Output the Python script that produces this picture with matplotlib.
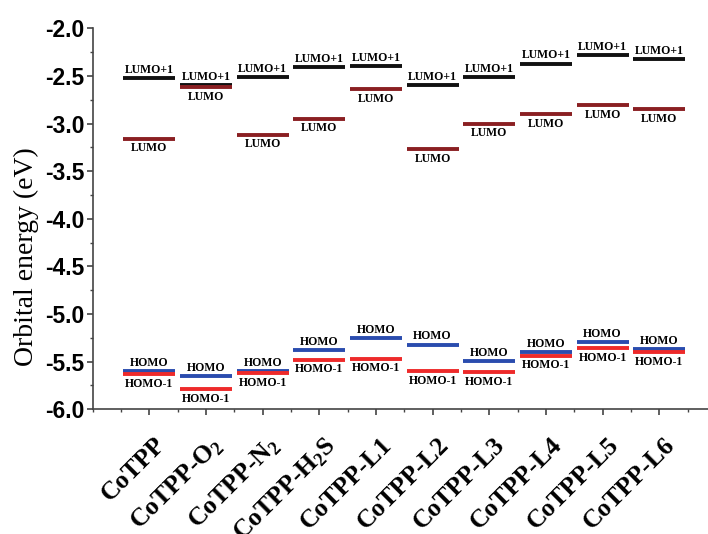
import matplotlib
matplotlib.use("Agg")
import matplotlib.pyplot as plt
import matplotlib.transforms as mtransforms
from matplotlib.ticker import MultipleLocator

plt.rcParams["mathtext.fontset"] = "custom"
plt.rcParams["mathtext.rm"] = "Liberation Serif"
plt.rcParams["mathtext.bf"] = "Liberation Serif:bold"

systems = ["CoTPP", r"CoTPP-O$_\mathbf{2}$", r"CoTPP-N$_\mathbf{2}$",
           r"CoTPP-H$_\mathbf{2}$S", "CoTPP-L1", "CoTPP-L2", "CoTPP-L3",
           "CoTPP-L4", "CoTPP-L5", "CoTPP-L6"]

# orbital energies (eV)
lumo1 = [-2.52, -2.60, -2.51, -2.41, -2.40, -2.60, -2.51, -2.37, -2.28, -2.32]
lumo = [-3.16, -2.62, -3.12, -2.95, -2.64, -3.27, -3.00, -2.90, -2.81, -2.85]
homo = [-5.60, -5.65, -5.60, -5.38, -5.25, -5.32, -5.49, -5.40, -5.29, -5.37]
homo1 = [-5.63, -5.79, -5.62, -5.48, -5.47, -5.60, -5.61, -5.44, -5.36, -5.40]

levels = [
    (lumo1, "LUMO+1", "#111111", "above"),
    (lumo, "LUMO", "#8a1f22", "below"),
    (homo, "HOMO", "#2a4cae", "above"),
    (homo1, "HOMO-1", "#ee2a2a", "below"),
]

fig = plt.figure(figsize=(7.08, 5.34), dpi=100)
ax = fig.add_axes([0.131, 0.2335, 0.869, 0.7135])

x = list(range(1, len(systems) + 1))
half = 0.46
for values, name, color, side in levels:
    ax.hlines(values, [xi - half for xi in x], [xi + half for xi in x],
              colors=color, linewidth=2.8)
    for xi, v in zip(x, values):
        if side == "above":
            ax.annotate(name, (xi, v), xytext=(0, 1.5), textcoords="offset points",
                        ha="center", va="bottom", fontsize=8.5,
                        fontfamily="Liberation Serif", fontweight="bold")
        else:
            ax.annotate(name, (xi, v), xytext=(0, -2.5), textcoords="offset points",
                        ha="center", va="top", fontsize=8.5,
                        fontfamily="Liberation Serif", fontweight="bold")

ax.set_xlim(0, 10.86)
ax.set_ylim(-6.0, -2.0)
ax.yaxis.set_major_locator(MultipleLocator(0.5))
ax.yaxis.set_minor_locator(MultipleLocator(0.25))
ax.set_xticks(x)
ax.xaxis.set_minor_locator(MultipleLocator(0.5))

for s in ["top", "right"]:
    ax.spines[s].set_visible(False)
for s in ["left", "bottom"]:
    ax.spines[s].set_color("#444444")
    ax.spines[s].set_linewidth(1.2)

ax.tick_params(axis="both", which="major", direction="out", length=4, width=1.2,
               color="#444444")
ax.tick_params(axis="both", which="minor", direction="out", length=2.5, width=1,
               color="#444444")
ax.tick_params(axis="y", pad=2)
ax.tick_params(axis="x", pad=13)

ax.set_yticklabels([f"{t:.1f}" for t in ax.get_yticks()],
                   fontfamily="Liberation Sans", fontweight="bold", fontsize=16.5)

ax.set_xticklabels(systems, rotation=45, ha="right", va="top",
                   rotation_mode="anchor", fontfamily="Liberation Serif",
                   fontweight="bold", fontsize=18.5)
shift = mtransforms.ScaledTranslation(3 / 72, 0, fig.dpi_scale_trans)
for lab in ax.get_xticklabels():
    lab.set_transform(lab.get_transform() + shift)

ax.set_ylabel("Orbital energy (eV)", fontfamily="Liberation Serif", fontsize=20)
ax.yaxis.set_label_coords(-0.087, 0.40)

fig.savefig("out.png", dpi=100)
